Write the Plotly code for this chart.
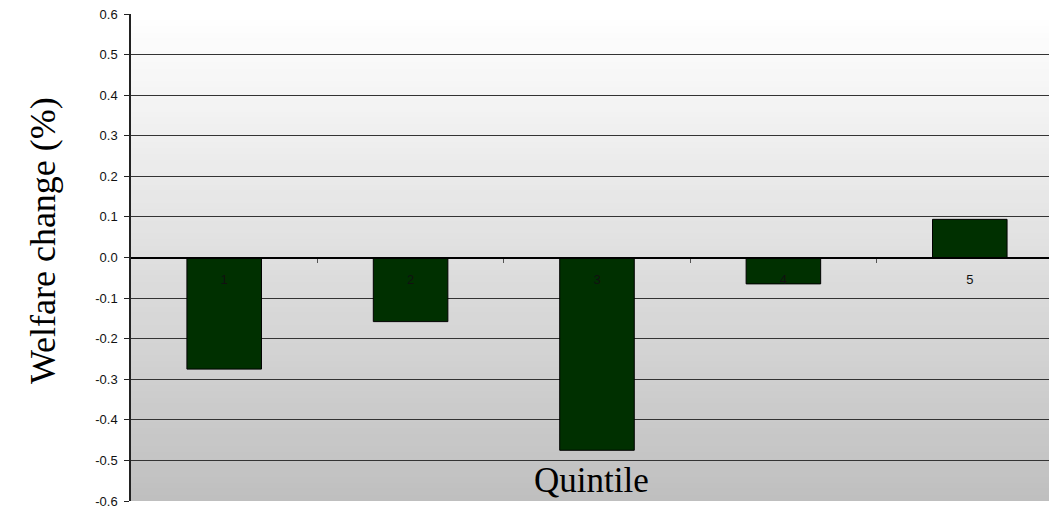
import plotly.graph_objects as go

# Welfare change by income quintile (%)
quintiles = [1, 2, 3, 4, 5]
quintile_labels = ["1", "2", "3", "4", "5"]
welfare_change = [-0.275, -0.158, -0.475, -0.065, 0.094]

y_ticks = [-0.6, -0.5, -0.4, -0.3, -0.2, -0.1, 0.0, 0.1, 0.2, 0.3, 0.4, 0.5, 0.6]
y_tick_text = ["%.1f" % v for v in y_ticks]  # plain hyphen minus

W, H = 1049, 509
LEFT, TOP, BOTTOM = 131, 14, 5
X_RANGE = [0.5, 5.425]
Y_RANGE = [-0.6, 0.6]

fig = go.Figure()

fig.add_trace(go.Bar(
    x=quintiles,
    y=welfare_change,
    width=0.4,
    marker=dict(color="#003000", line=dict(color="#000000", width=1)),
    showlegend=False,
    hoverinfo="y",
))

# vertical white-to-grey gradient behind the plot area
shapes = []
n = 80
for i in range(n):
    y0 = i / n
    y1 = (i + 1) / n
    t = (y0 + y1) / 2
    g = int(round(191 + 64 * t))
    shapes.append(dict(
        type="rect", xref="x domain", yref="y domain",
        x0=0, x1=1, y0=y0, y1=min(1, y1 + 0.002),
        fillcolor=f"rgb({g},{g},{g})", line=dict(width=0), layer="below",
    ))

serif = "Liberation Serif, Times New Roman, serif"
sans = "Liberation Sans, Arial, sans-serif"

fig.update_layout(
    width=W, height=H,
    margin=dict(l=LEFT, r=0, t=TOP, b=BOTTOM, pad=0),
    paper_bgcolor="white",
    plot_bgcolor="#dfdfdf",
    shapes=shapes,
    bargap=0.6,
    xaxis=dict(
        range=X_RANGE,
        tickvals=quintiles,
        ticktext=quintile_labels,
        ticks="outside", ticklen=10, tickcolor="rgba(0,0,0,0)",
        tickfont=dict(family=sans, size=13, color="#111"),
        showgrid=False, zeroline=False,
        showline=True, linecolor="#000", linewidth=1,
        anchor="free", position=0.5,
        fixedrange=True,
    ),
    xaxis2=dict(
        range=X_RANGE,
        overlaying="x", matches="x",
        tickvals=[1.5, 2.5, 3.5, 4.5],
        ticks="outside", ticklen=4, tickcolor="#555", tickwidth=1,
        showticklabels=False, showgrid=False, zeroline=False,
        anchor="free", position=0.5,
    ),
    yaxis=dict(
        range=Y_RANGE,
        tickvals=y_ticks,
        ticktext=y_tick_text,
        ticks="outside", ticklen=5, tickcolor="#222",
        ticklabelstandoff=4,
        ticklabeloverflow="allow",
        tickfont=dict(family=sans, size=13, color="#111"),
        showgrid=True, gridcolor="#333333", gridwidth=1,
        zeroline=True, zerolinecolor="#000", zerolinewidth=1,
        showline=True, linecolor="#222", linewidth=1.5,
        fixedrange=True,
    ),
    annotations=[
        dict(
            text="Welfare change (%)", textangle=-90,
            xref="paper", yref="paper",
            x=(43 - LEFT) / (W - LEFT), y=(H - BOTTOM - 242.5) / (H - TOP - BOTTOM),
            xanchor="center", yanchor="middle", showarrow=False,
            font=dict(family=serif, size=36, color="#000"),
        ),
        dict(
            text="Quintile",
            xref="x", yref="paper",
            x=2.97, y=(H - BOTTOM - 483) / (H - TOP - BOTTOM),
            xanchor="center", yanchor="middle", showarrow=False,
            font=dict(family=serif, size=35, color="#000"),
        ),
    ],
)

# second axis needs a trace to render its boundary ticks
fig.add_trace(go.Scatter(x=[None], y=[None], xaxis="x2", showlegend=False, hoverinfo="skip"))

fig.write_html("out.html")
